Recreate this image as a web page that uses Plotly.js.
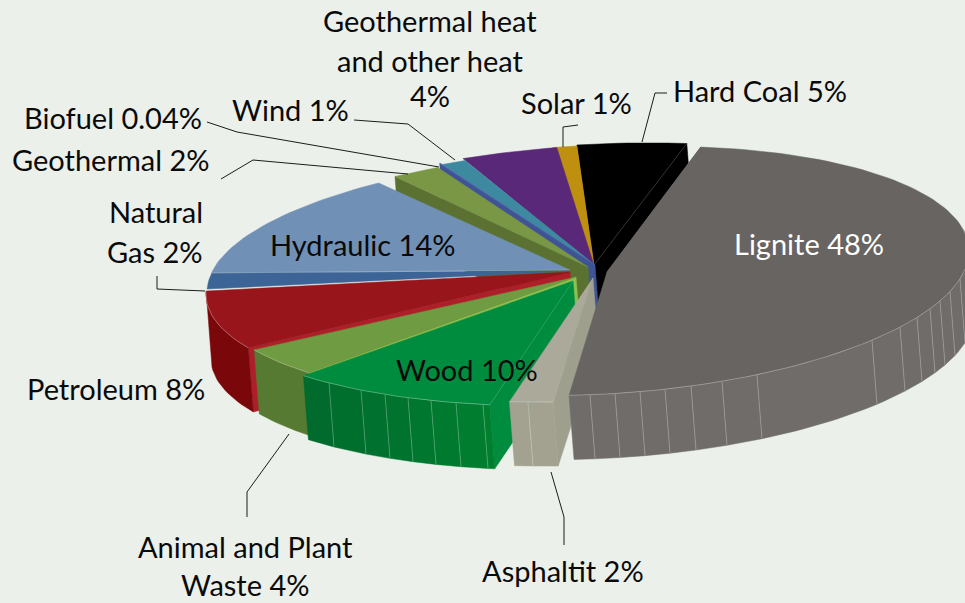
<!DOCTYPE html>
<html><head><meta charset="utf-8">
<script src="https://cdn.plot.ly/plotly-3.0.1.min.js"></script>
<style>html,body{margin:0;padding:0;background:#ebf0ea;overflow:hidden}#c{width:965px;height:603px}</style>
</head><body><div id="c"></div>
<script>
// ---- data (clockwise from Lignite)
var categories = ["Lignite","Asphaltit","Wood","Animal and Plant Waste","Petroleum","Natural Gas","Hydraulic","Geothermal","Biofuel","Wind","Geothermal heat and other heat","Solar","Hard Coal"];
var values = [48,2,10,4,8,2,14,2,0.04,1,4,1,5];
var labelLines = ["Lignite 48%","Asphaltit 2%","Wood 10%","Animal and Plant","Waste 4%","Petroleum 8%","Natural","Gas 2%","Hydraulic 14%","Geothermal 2%","Biofuel 0.04%","Wind 1%","Geothermal heat","and other heat","4%","Solar 1%","Hard Coal 5%"];

// ---- drawing configuration
var BG="#ebf0ea", FONT="Lato, 'Open Sans', sans-serif", FS=29;
var C={x:596,y:266,a:389,b:122,shear:-0.042,start:15,wx:5,wy:64};
var topColor =["#676462","#aaa99a","#008c3f","#6f9c42","#97151b","#3c6497","#7190b6","#7a9745","#4b5fa5","#3d8aa0","#5a2878","#bf900f","#000000"];
var faceColor=["#6f6c6a","#9f9f8d","#008c3f","#8cc04f","#ae1f2a",null,null,"#5b7132","#3f5494",null,null,null,"#000000"];
var wallFrom =["#6f6c6a","#a3a291","#00802f","#567a31","#7a0709",null,null,null,null,null,null,null,null];
var wallTo   =["#6f6c6a","#a3a291","#006b2d","#567a31","#7a0709",null,null,null,null,null,null,null,null];
// rim shift, apex, trim of the sweep [start,end] and ellipse overrides for each slice
var rimShift=[[11,5],[-2,13],[0,17],[5,14],[-1,12],[0,10],[0,9],[2,6],[4,2],[6,3],[4,1],[0,1],[0,0]];
var apex=[[607,272],[593,278],[573,281],[576,277],[570,272],[570,271],[570,270],[588,267],[595,265],[595,265],[594,265],[594,265],[594,265]];
var trim=[[0,0],[0,0.6],[2.7,0],[0,0],[0,0],[0,-0.3],[0,2.5],[0,0],[0,0],[0,0],[0,0],[0,0],[0,1.5]];
var sliceA=[362,389,389,389,389,389,389,389,389,389,389,389,389];
var sliceB=[123,122,122,122,122,122,122,122,122,122,122,122,122];
var sliceShear=[-0.055,-0.042,-0.042,-0.042,-0.042,-0.042,-0.042,-0.042,-0.042,-0.042,-0.042,-0.042,-0.042];
var wallStart=[80,null,null,null,null];
var facetX=[[590,615,640,665,691,722,757,872,900,917,930,940,950,960],[528],[329,361,385,408,431,456,483],[],[]];
var labelX=[809,563,467,245,245,116,204,204,362,111,113,290,430,430,430,576,760];
var labelY=[243,570,369,546,584,388,211,251,244,159,117,109,20,60,95,102,90];
var labelAnchor=["center","center","center","center","center","center","right","right","center","center","center","center","center","center","center","center","center"];
var leaders=[
 [[642,142],[655,93],[667,93]],
 [[563,147],[563,127],[578,125]],
 [[354,120],[408,124],[455,160]],
 [[207,122],[237,132],[439,167]],
 [[221,179],[253,160],[408,174]],
 [[157,276],[157,289],[205,291]],
 [[247,517],[247,492],[289,434]],
 [[551,472],[564,517],[564,545]]
];

// ---- helpers
var total=values.reduce(function(a,b){return a+b;},0);
function rim(t,s,i){var r=t*Math.PI/180,dx=sliceA[i]*Math.sin(r);
  return [C.x+dx+s[0], C.y+sliceShear[i]*dx-sliceB[i]*Math.cos(r)+s[1]];}
function arc(t0,t1,s,i){var n=Math.max(2,Math.ceil(Math.abs(t1-t0)/1.5)),o=[];
  for(var k=0;k<=n;k++)o.push(rim(t0+(t1-t0)*k/n,s,i));return o;}
function poly(pts,fill,lc,lw){return {type:"scatter",mode:"lines",x:pts.map(function(p){return p[0];}).concat([pts[0][0]]),y:pts.map(function(p){return p[1];}).concat([pts[0][1]]),fill:"toself",fillcolor:fill,line:{color:lc||fill,width:lw===undefined?0.5:lw},hoverinfo:"skip",showlegend:false};}
function path(pts,col,w){return {type:"scatter",mode:"lines",x:pts.map(function(p){return p[0];}),y:pts.map(function(p){return p[1];}),line:{color:col,width:w},hoverinfo:"skip",showlegend:false};}
function hex(c){return [1,3,5].map(function(i){return parseInt(c.substr(i,2),16);});}
function mix(a,b,f){var x=hex(a),y=hex(b);return "rgb("+x.map(function(v,i){return Math.round(v+(y[i]-v)*f);}).join(",")+")";}

// ---- slice angles from values
var spans=[],cum=C.start;
values.forEach(function(v,i){var sw=v/total*360;spans.push([cum+trim[i][0],cum+sw-trim[i][1]]);cum+=sw;});

// ---- paint back to front
var order=[12,11,10,9,8,7,6,5,4,3,2,1,0], traces=[];
order.forEach(function(i){
  var s=rimShift[i],t0=spans[i][0],t1=spans[i][1],ap=apex[i],sh=[C.wx,C.wy];
  // cut face
  if(faceColor[i]){
    var ft=(i===12)?t1:t0,c=rim(ft,s,i);
    traces.push(poly([c,ap,[ap[0]+sh[0],ap[1]+sh[1]],[c[0]+sh[0],c[1]+sh[1]]],faceColor[i]));
  }
  // outer wall, in facets
  if(wallFrom[i]){
    var ws=(wallStart[i]===null||wallStart[i]===undefined)?t0:wallStart[i];
    var ox=s[0],bounds=[ws];
    var facetT=facetX[i].map(function(x){return 180-Math.asin((x-C.x-ox)/sliceA[i])*180/Math.PI;})
      .filter(function(t){return t>ws&&t<t1;}).sort(function(a,b){return a-b;});
    bounds=bounds.concat(facetT).concat([t1]);
    for(var k=0;k<bounds.length-1;k++){
      var up=arc(bounds[k],bounds[k+1],s,i);
      var dn=up.map(function(p){return [p[0]+sh[0],p[1]+sh[1]];}).reverse();
      traces.push(poly(up.concat(dn),mix(wallFrom[i],wallTo[i],bounds.length>2?k/(bounds.length-2):0)));
    }
    facetT.forEach(function(t){var p=rim(t,s,i);traces.push(path([p,[p[0]+sh[0],p[1]+sh[1]]],"rgba(255,255,255,0.25)",1));});
  }
  // top
  var pts=arc(t0,t1,s,i);pts.push(ap);
  traces.push(poly(pts,topColor[i]));
  if(wallFrom[i]){traces.push(path(arc(wallStart[i]||t0,t1,s,i),"rgba(255,255,255,0.28)",1));}
  if(i===2||i===12){var cr=rim(i===2?t0:t1,s,i);traces.push(path([cr,ap],"rgba(255,255,255,0.2)",0.7));}
  if(i===6){traces.push(path([rim(t0,s,i),ap],"rgba(255,255,255,0.18)",1));}
});
// ---- leader lines
leaders.forEach(function(l){traces.push(path(l,"#1c1c1c",1));});

var annotations=labelLines.map(function(t,i){
  return {xref:"x",yref:"y",x:labelX[i],y:labelY[i],text:t,showarrow:false,xanchor:labelAnchor[i],yanchor:"middle",borderpad:0,
    font:{family:FONT,size:FS,color:i===0?"#ffffff":"#0a0a0a"}};
});

Plotly.newPlot("c",traces,{
  width:965,height:603,margin:{l:0,r:0,t:0,b:0},
  paper_bgcolor:BG,plot_bgcolor:BG,showlegend:false,hovermode:false,
  xaxis:{range:[0,965],visible:false,fixedrange:true},
  yaxis:{range:[603,0],visible:false,fixedrange:true},
  annotations:annotations
},{displayModeBar:false,staticPlot:true});
</script></body></html>
